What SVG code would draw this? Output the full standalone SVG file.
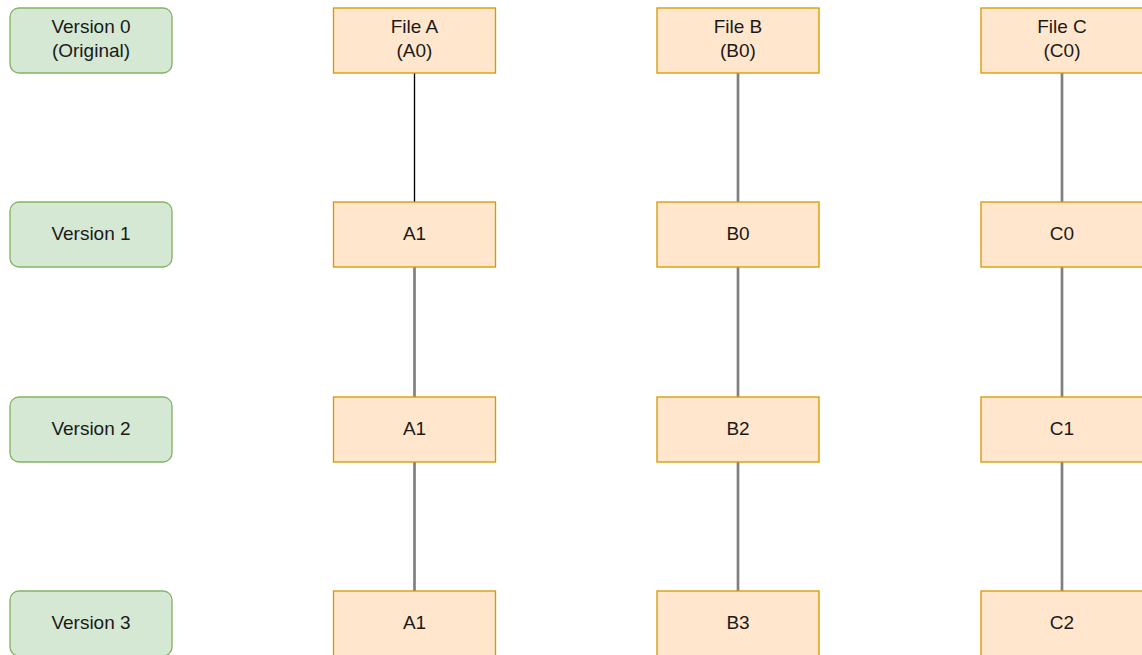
<svg xmlns="http://www.w3.org/2000/svg" width="1142" height="655" viewBox="0 0 1142 655">
  <style>
    .ver rect { fill: #d5e8d4; stroke: #82b366; stroke-width: 1.35; }
    .file rect { fill: #ffe6cc; stroke: #d79b00; stroke-width: 1.35; }
    text { font-family: "Liberation Sans", Arial, sans-serif; font-size: 19px; fill: #1a1a1a; text-anchor: middle; }
    .link { stroke: #808080; stroke-width: 2.7; fill: none; }
    .link.first { stroke: #000000; stroke-width: 1.35; }
  </style>
  <rect width="1142" height="655" fill="#ffffff"/>

  <!-- vertical links between versions of each file -->
  <g id="connectors">
    <line class="link first" x1="414.5" y1="73" x2="414.5" y2="202"/>
    <line class="link" x1="414.5" y1="267" x2="414.5" y2="397"/>
    <line class="link" x1="414.5" y1="462" x2="414.5" y2="591"/>
    <line class="link" x1="738" y1="73" x2="738" y2="202"/>
    <line class="link" x1="738" y1="267" x2="738" y2="397"/>
    <line class="link" x1="738" y1="462" x2="738" y2="591"/>
    <line class="link" x1="1062" y1="73" x2="1062" y2="202"/>
    <line class="link" x1="1062" y1="267" x2="1062" y2="397"/>
    <line class="link" x1="1062" y1="462" x2="1062" y2="591"/>
  </g>

  <!-- version labels -->
  <g id="v0" class="ver"><rect x="10" y="8" width="162" height="65" rx="9"/><text x="91" y="33">Version 0</text><text x="91" y="57">(Original)</text></g>
  <g id="v1" class="ver"><rect x="10" y="202" width="162" height="65" rx="9"/><text x="91" y="240">Version 1</text></g>
  <g id="v2" class="ver"><rect x="10" y="397" width="162" height="65" rx="9"/><text x="91" y="435">Version 2</text></g>
  <g id="v3" class="ver"><rect x="10" y="591" width="162" height="65" rx="9"/><text x="91" y="629">Version 3</text></g>

  <!-- file A -->
  <g id="a0" class="file"><rect x="333.5" y="8" width="162" height="65"/><text x="414.5" y="33">File A</text><text x="414.5" y="57">(A0)</text></g>
  <g id="a1" class="file"><rect x="333.5" y="202" width="162" height="65"/><text x="414.5" y="240">A1</text></g>
  <g id="a2" class="file"><rect x="333.5" y="397" width="162" height="65"/><text x="414.5" y="435">A1</text></g>
  <g id="a3" class="file"><rect x="333.5" y="591" width="162" height="65"/><text x="414.5" y="629">A1</text></g>

  <!-- file B -->
  <g id="b0" class="file"><rect x="657" y="8" width="162" height="65"/><text x="738" y="33">File B</text><text x="738" y="57">(B0)</text></g>
  <g id="b1" class="file"><rect x="657" y="202" width="162" height="65"/><text x="738" y="240">B0</text></g>
  <g id="b2" class="file"><rect x="657" y="397" width="162" height="65"/><text x="738" y="435">B2</text></g>
  <g id="b3" class="file"><rect x="657" y="591" width="162" height="65"/><text x="738" y="629">B3</text></g>

  <!-- file C -->
  <g id="c0" class="file"><rect x="981" y="8" width="162" height="65"/><text x="1062" y="33">File C</text><text x="1062" y="57">(C0)</text></g>
  <g id="c1" class="file"><rect x="981" y="202" width="162" height="65"/><text x="1062" y="240">C0</text></g>
  <g id="c2" class="file"><rect x="981" y="397" width="162" height="65"/><text x="1062" y="435">C1</text></g>
  <g id="c3" class="file"><rect x="981" y="591" width="162" height="65"/><text x="1062" y="629">C2</text></g>
</svg>
